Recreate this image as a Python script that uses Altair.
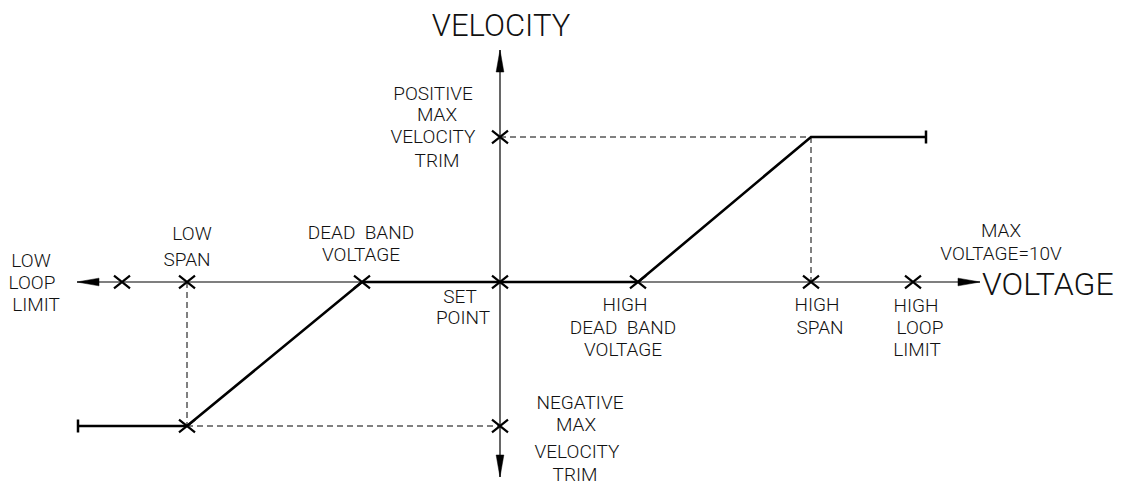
import altair as alt
import pandas as pd

# ---- data (arbitrary units; set point = origin) ----
mark_names = ["LOW LOOP LIMIT", "LOW SPAN", "DEAD BAND VOLTAGE", "SET POINT",
              "HIGH DEAD BAND VOLTAGE", "HIGH SPAN", "HIGH LOOP LIMIT",
              "POSITIVE MAX VELOCITY TRIM", "NEGATIVE MAX VELOCITY TRIM", "LOW SPAN @ NEG MAX"]
mark_voltage = [-7.56, -6.26, -2.76, 0.0, 2.76, 6.22, 8.26, 0.0, 0.0, -6.26]
mark_velocity = [0.0, 0.0, 0.0, 0.0, 0.0, 0.0, 0.0, 2.9, -2.88, -2.88]

curve_voltage = [-8.44, -6.26, -2.76, 2.76, 6.22, 8.52]
curve_velocity = [-2.88, -2.88, 0.0, 0.0, 2.9, 2.9]

end_voltage = [-8.44, 8.52]
end_velocity = [-2.88, 2.9]

dash_x1 = [-6.26, -6.26, 0.0, 6.22]
dash_y1 = [0.0, -2.88, 2.9, 2.9]
dash_x2 = [-6.26, 0.0, 6.22, 6.22]
dash_y2 = [-2.88, -2.88, 2.9, 0.0]

axis_x1 = [-8.46, 0.0]
axis_y1 = [0.0, -3.9]
axis_x2 = [9.6, 0.0]
axis_y2 = [0.0, 4.64]

arrow_x = [-8.46, 9.6, 0.0, 0.0]
arrow_y = [0.0, 0.0, 4.64, -3.9]
arrow_angle = [180, 0, 270, 90]

label_text = ["VELOCITY", "VOLTAGE", "MAX", "VOLTAGE=10V",
              "LOW", "LOOP", "LIMIT",
              "LOW", "SPAN",
              "DEAD\u00a0\u00a0BAND", "VOLTAGE",
              "SET", "POINT",
              "HIGH", "DEAD\u00a0\u00a0BAND", "VOLTAGE",
              "HIGH", "SPAN",
              "HIGH", "LOOP", "LIMIT",
              "POSITIVE", "MAX", "VELOCITY", "TRIM",
              "NEGATIVE", "MAX", "VELOCITY", "TRIM"]
label_x = [0.02, 9.64, 10.02, 10.02,
           -9.38, -9.36, -9.28,
           -6.16, -6.26,
           -2.78, -2.78,
           -0.80, -0.74,
           2.50, 2.46, 2.46,
           6.34, 6.40,
           8.32, 8.40, 8.34,
           -1.34, -1.26, -1.34, -1.26,
           1.60, 1.52, 1.54, 1.50]
label_y = [5.10, -0.06, 1.03, 0.57,
           0.42, -0.02, -0.46,
           0.96, 0.44,
           0.98, 0.54,
           -0.30, -0.72,
           -0.46, -0.92, -1.36,
           -0.46, -0.92,
           -0.48, -0.92, -1.36,
           3.76, 3.34, 2.90, 2.42,
           -2.42, -2.86, -3.40, -3.86]
label_size = [31, 32] + [19] * 27
label_align = ["center", "left"] + ["center"] * 27

W, H = 1111, 475
xs = alt.Scale(domain=[-9.84, 12.38], nice=False, zero=False)
ys = alt.Scale(domain=[-4.02, 5.48], nice=False, zero=False)

FONT = "Roboto"
INK = "#000000"

axes_df = pd.DataFrame({"x": axis_x1, "y": axis_y1, "x2": axis_x2, "y2": axis_y2})
axes = alt.Chart(axes_df).mark_rule(color=INK, strokeWidth=1.2).encode(
    x=alt.X("x:Q", scale=xs, axis=None), y=alt.Y("y:Q", scale=ys, axis=None),
    x2="x2:Q", y2="y2:Q")

dash_df = pd.DataFrame({"x": dash_x1, "y": dash_y1, "x2": dash_x2, "y2": dash_y2})
dashes = alt.Chart(dash_df).mark_rule(color=INK, strokeWidth=1, strokeDash=[6, 4]).encode(
    x=alt.X("x:Q", scale=xs, axis=None), y=alt.Y("y:Q", scale=ys, axis=None),
    x2="x2:Q", y2="y2:Q")

curve_df = pd.DataFrame({"v": curve_voltage, "vel": curve_velocity, "o": list(range(len(curve_voltage)))})
curve = alt.Chart(curve_df).mark_line(color=INK, strokeWidth=2.6).encode(
    x=alt.X("v:Q", scale=xs, axis=None), y=alt.Y("vel:Q", scale=ys, axis=None),
    order="o:Q")

ends_df = pd.DataFrame({"v": end_voltage, "vel": end_velocity})
ends = alt.Chart(ends_df).mark_point(shape="M 0 -1 L 0 1", size=169, filled=False,
                                     stroke=INK, strokeWidth=2.5, opacity=1).encode(
    x=alt.X("v:Q", scale=xs, axis=None), y=alt.Y("vel:Q", scale=ys, axis=None))

marks_df = pd.DataFrame({"name": mark_names, "v": mark_voltage, "vel": mark_velocity})
crosses = alt.Chart(marks_df).mark_point(shape="M -1 -0.8 L 1 0.8 M -1 0.8 L 1 -0.8", size=256,
                                         filled=False, stroke=INK, strokeWidth=2.2, opacity=1).encode(
    x=alt.X("v:Q", scale=xs, axis=None), y=alt.Y("vel:Q", scale=ys, axis=None))

arrow_df = pd.DataFrame({"x": arrow_x, "y": arrow_y, "a": arrow_angle})
arrows = alt.Chart(arrow_df).mark_point(shape="M 0 0 L -4 -0.7 L -4 0.7 Z", size=121,
                                        filled=True, fill=INK, stroke=INK, strokeWidth=0.5,
                                        opacity=1).encode(
    x=alt.X("x:Q", scale=xs, axis=None), y=alt.Y("y:Q", scale=ys, axis=None),
    angle=alt.Angle("a:Q", scale=None))

lab_df = pd.DataFrame({"t": label_text, "x": label_x, "y": label_y,
                       "s": label_size, "al": label_align})
texts = []
for al in ["center", "left"]:
    sub = lab_df[lab_df["al"] == al]
    texts.append(alt.Chart(sub).mark_text(align=al, baseline="middle", font=FONT,
                                          fontWeight=300, color="#111111").encode(
        x=alt.X("x:Q", scale=xs, axis=None), y=alt.Y("y:Q", scale=ys, axis=None),
        text="t:N", size=alt.Size("s:Q", scale=None)))

chart = alt.layer(axes, dashes, curve, ends, crosses, arrows, *texts).properties(
    width=W, height=H, padding=0, background="white"
).configure_view(stroke=None)

chart.save("out.html", embed_options={"renderer": "svg", "actions": False})
